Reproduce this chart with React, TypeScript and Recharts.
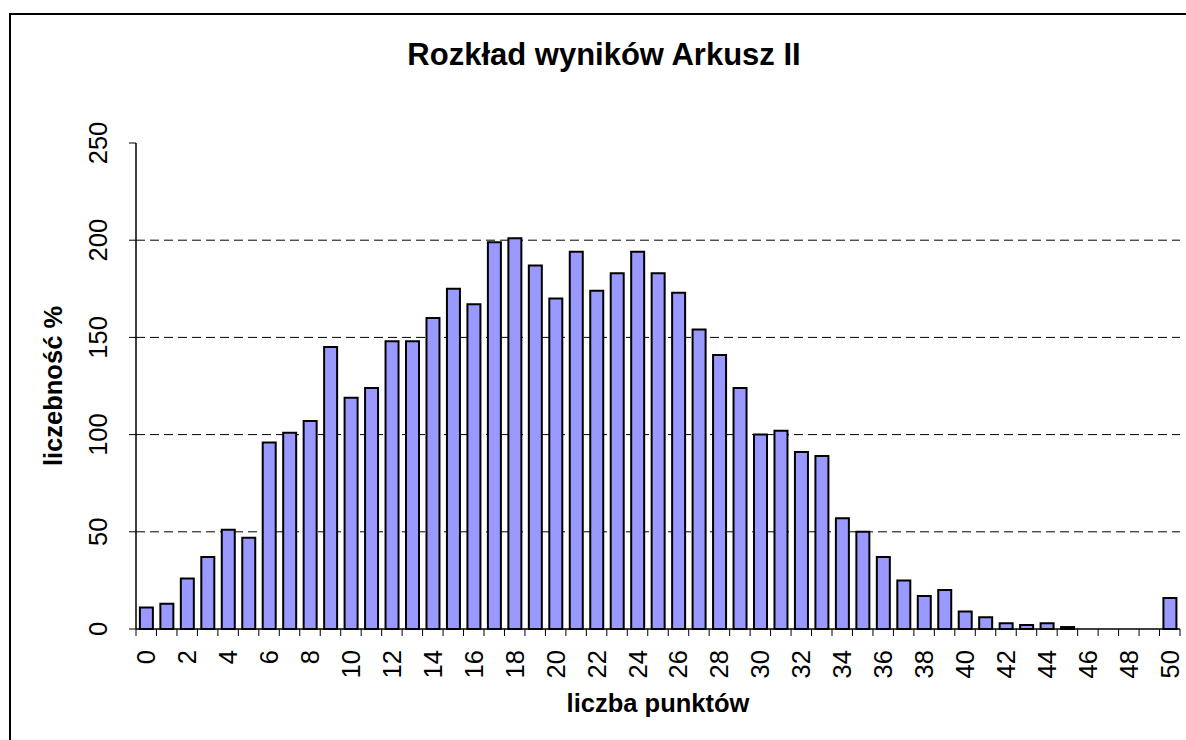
import { Bar, BarChart, CartesianGrid, XAxis, YAxis } from "recharts";

const scores = [
  "0", "1", "2", "3", "4", "5", "6", "7", "8", "9",
  "10", "11", "12", "13", "14", "15", "16", "17", "18", "19",
  "20", "21", "22", "23", "24", "25", "26", "27", "28", "29",
  "30", "31", "32", "33", "34", "35", "36", "37", "38", "39",
  "40", "41", "42", "43", "44", "45", "46", "47", "48", "49", "50"
];

const counts = [
  11, 13, 26, 37, 51, 47, 96, 101, 107, 145,
  119, 124, 148, 148, 160, 175, 167, 199, 201, 187,
  170, 194, 174, 183, 194, 183, 173, 154, 141, 124,
  100, 102, 91, 89, 57, 50, 37, 25, 17, 20,
  9, 6, 3, 2, 3, 1, 0, 0, 0, 0, 16
];

const yTicks = [0, 50, 100, 150, 200, 250];
const gridValues = [50, 100, 150, 200];

const chartTitle = "Rozkład wyników Arkusz II";
const xTitle = "liczba punktów";
const yTitle = "liczebność %";

const data = scores.map((score, i) => ({ score, value: counts[i] }));

const W = 1186;
const H = 740;
const PLOT_LEFT = 136;
const PLOT_RIGHT = 1180;
const PLOT_TOP = 143;
const PLOT_BOTTOM = 629;
const Y_AXIS_W = 60;
const X_AXIS_H = 70;
const TICK_SIZE = 7;
const X_TICK_MARGIN = 14;
const FONT = "'Liberation Sans', Arial, sans-serif";

function XTick(props: any) {
  const { x, y, payload, index } = props;
  const half = payload?.offset ?? (PLOT_RIGHT - PLOT_LEFT) / scores.length / 2;
  const top = y - X_TICK_MARGIN - TICK_SIZE;
  const idx = index ?? payload?.index ?? 0;
  return (
    <g>
      <line x1={x - half} x2={x - half} y1={top} y2={top + TICK_SIZE} stroke="#000" strokeWidth={1} />
      {idx === scores.length - 1 && (
        <line x1={x + half} x2={x + half} y1={top} y2={top + TICK_SIZE} stroke="#000" strokeWidth={1} />
      )}
      {idx % 2 === 0 && (
        <text
          transform={`translate(${x + 9},${y}) rotate(-90)`}
          textAnchor="end"
          fontSize={25.5}
          fontFamily={FONT}
          fill="#000"
        >
          {payload.value}
        </text>
      )}
    </g>
  );
}

function YTick(props: any) {
  const { x, y, payload } = props;
  return (
    <text
      transform={`translate(${x},${y}) rotate(-90)`}
      textAnchor="middle"
      fontSize={25.5}
      fontFamily={FONT}
      fill="#000"
    >
      {payload.value}
    </text>
  );
}

export default function App() {
  return (
    <div
      style={{
        position: "fixed",
        left: 0,
        top: 0,
        width: W,
        height: H,
        overflow: "hidden",
        background: "#fff"
      }}
    >
      <div
        style={{
          position: "absolute",
          left: 9,
          top: 13,
          width: W + 20,
          height: H + 20,
          borderLeft: "2px solid #000",
          borderTop: "2px solid #000"
        }}
      />
      <div style={{ position: "absolute", left: 0, top: 0 }}>
        <BarChart
          width={W}
          height={H}
          data={data}
          barCategoryGap="19%"
          margin={{
            top: PLOT_TOP,
            right: W - PLOT_RIGHT,
            left: PLOT_LEFT - Y_AXIS_W,
            bottom: H - PLOT_BOTTOM - X_AXIS_H
          }}
        >
          <CartesianGrid
            vertical={false}
            horizontalValues={gridValues}
            stroke="#000"
            strokeDasharray="9 5"
          />
          <XAxis
            dataKey="score"
            interval={0}
            height={X_AXIS_H}
            tickSize={TICK_SIZE}
            tickMargin={X_TICK_MARGIN}
            tickLine={false}
            axisLine={{ stroke: "#000", strokeWidth: 1.5 }}
            tick={<XTick />}
          />
          <XAxis
            xAxisId="top"
            dataKey="score"
            orientation="top"
            height={0}
            tick={false}
            tickLine={false}
            axisLine={{ stroke: "#808080", strokeWidth: 2 }}
          />
          <YAxis
            domain={[0, 250]}
            ticks={yTicks}
            interval={0}
            width={Y_AXIS_W}
            tickSize={TICK_SIZE}
            tickMargin={22}
            tickLine={{ stroke: "#000" }}
            axisLine={{ stroke: "#000", strokeWidth: 1.5 }}
            tick={<YTick />}
          />
          <YAxis
            yAxisId="right"
            orientation="right"
            domain={[0, 250]}
            width={0}
            tick={false}
            tickLine={false}
            axisLine={{ stroke: "#808080", strokeWidth: 2 }}
          />
          <Bar
            dataKey="value"
            fill="#9999FF"
            stroke="#000"
            strokeWidth={2}
            isAnimationActive={false}
          />
        </BarChart>
      </div>
      <svg
        width={W}
        height={H}
        style={{ position: "absolute", left: 0, top: 0, pointerEvents: "none" }}
      >
        <text
          x={604}
          y={65}
          textAnchor="middle"
          fontSize={31}
          fontWeight="bold"
          fontFamily={FONT}
          fill="#000"
        >
          {chartTitle}
        </text>
        <text
          x={(PLOT_LEFT + PLOT_RIGHT) / 2}
          y={712}
          textAnchor="middle"
          fontSize={25.5}
          fontWeight="bold"
          fontFamily={FONT}
          fill="#000"
        >
          {xTitle}
        </text>
        <text
          transform={`translate(62,${(PLOT_TOP + PLOT_BOTTOM) / 2}) rotate(-90)`}
          textAnchor="middle"
          fontSize={25.5}
          fontWeight="bold"
          fontFamily={FONT}
          fill="#000"
        >
          {yTitle}
        </text>
      </svg>
    </div>
  );
}
